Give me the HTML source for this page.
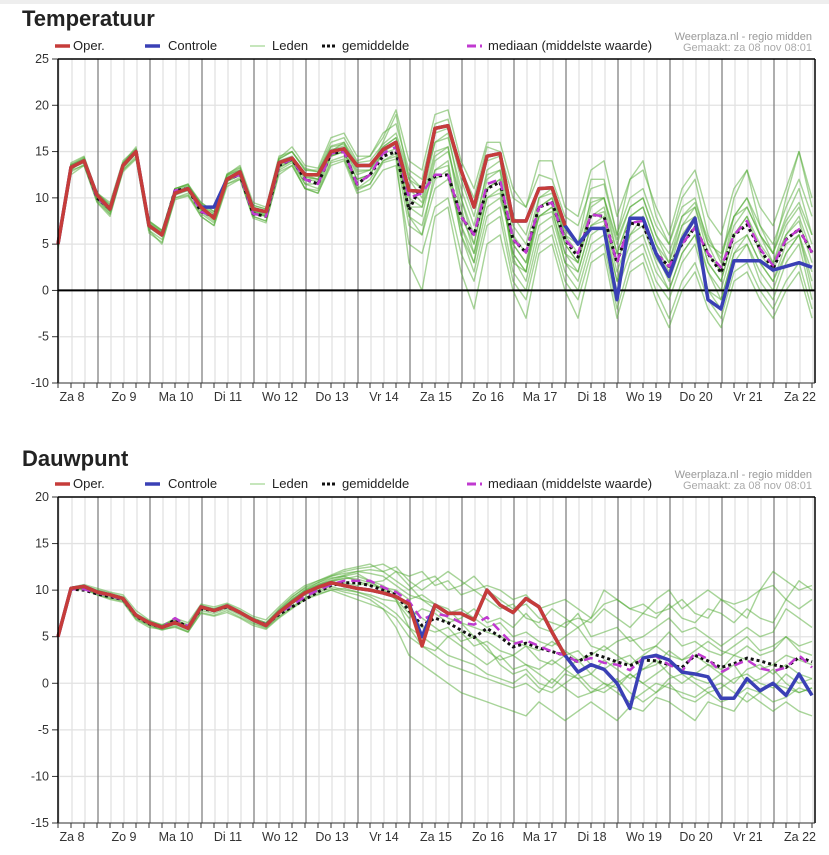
<!DOCTYPE html>
<html><head><meta charset="utf-8">
<style>
html,body{margin:0;padding:0;background:#fff;width:829px;height:855px;overflow:hidden;font-family:"Liberation Sans",sans-serif}
svg{position:absolute;left:0;top:0}
</style></head>
<body>
<svg id="c" width="829" height="855" xmlns="http://www.w3.org/2000/svg"></svg>
<script>
const days=["Za 8","Zo 9","Ma 10","Di 11","Wo 12","Do 13","Vr 14","Za 15","Zo 16","Ma 17","Di 18","Wo 19","Do 20","Vr 21","Za 22"];
const tempTicks=[25,20,15,10,5,0,-5,-10];
const dewTicks=[20,15,10,5,0,-5,-10,-15];
const tOper=[5,13.3,14,10.3,8.8,13.5,15,7,6,10.5,11,9,7.8,12,12.8,8.8,8.5,13.8,14.3,12.5,12.5,15,15.3,13.5,13.5,15.2,16,10.8,10.7,17.5,17.8,13,9,14.5,14.8,7.5,7.5,11,11.1,7];
const tCtrl=[5,13.3,14,10.3,8.8,13.5,15,7,6,10.5,11,9,9,12,12.8,8.8,8.5,13.8,14.3,12.5,12.5,15,15.3,13.5,13.5,15.2,16,10.8,10.7,17.5,17.8,13,9,14.5,14.8,7.5,7.5,11,11.1,7,5,6.7,6.7,-1,7.8,7.8,4,1.5,5.5,7.8,-1,-2,3.2,3.2,3.2,2.2,2.6,3,2.5];
const tMean=[5,13.3,14,10,8.8,13.5,15,7,6,10.8,11,8.5,8,12,12.5,8.3,8,13.5,14.2,12,11.5,14.8,15,11.5,12.5,14.5,15,8.7,11.5,12.3,12.5,8,6,11,11.7,5.5,4.1,9,9.5,5.5,3.6,8.2,8,3,7.3,7,4,2.6,5,6.8,4,1.9,6,7.1,4.5,2.3,5.5,6.6,4.1];
const tMedian=[5,13.3,14,10,8.8,13.5,15,7,6,10.8,11,8.5,8,12,12.5,8.3,8,13.5,14.2,12,11.5,14.8,15,11.5,12.5,14.8,15.5,10,10.5,12.5,12.5,8,6,11.5,12,5.5,4.1,9,9.5,5.5,4,8.2,8,3,7.3,7.5,4,2.6,5,6.8,4,2.5,6,7.5,4.5,2.7,5.5,6.6,4.1];
const tM1=[5,13.8,14.5,10.5,9.5,14,15.3,7.5,6.5,11,11.5,9.5,8.5,12.5,13.5,9.5,9,14.5,15,13,13,16,16.5,14,14.5,17,18,13,12,18,18.5,13,10,15.5,15,10,9,12.5,12,8,7,11,11.5,6,10,11,7,5,9,10,5,4,8,10,7,5,9,12,8];
const tM2=[4.5,12.5,13.5,9.5,8,13,14.5,6.5,5,10,10.5,8,7,11.5,12,8,7.5,12.5,13.5,11,10.5,13.5,14,10.5,11,13,13.5,5,4,9,10,4,1,7,8,1,-1,5,6,1,-1,4,5,-2,3,4,0,-3,1,3,-1,-3,2,3,0,-2,1,3,-2];
const tM3=[5,13,14.2,10,8.5,13.3,14.8,7,6,10.3,11,9,8,12,12.8,8.5,8,13.2,14,11.5,11,14.5,15,12,12.5,15,16,9,8,14,15,10,5,11,12,3,2,9,10,4,3,9,10,4,8,9,5,2,7,8,3,1,6,8,5,3,6,8,4];
const tM4=[5.2,13.5,14,10.2,9,13.8,15.5,7.5,6.5,11,11.5,9,8,12.5,13,9,8.5,14,14.5,12.5,12,15,16,13,13,16,19,12,10,16,17,10,6,13,14,6,4,8,9,3,2,7,8,2,6,8,4,1,5,7,2,0,5,6,3,1,4,6,2];
const tM5=[4.8,13.2,13.8,9.8,8.5,13.2,14.8,6.8,5.8,10.5,10.8,8.5,7.5,11.8,12.5,8.5,8,13.5,14,11.5,11.5,14.5,15,11,11.5,14,14.5,7,6,11,12,7,3,9,10,5,3,9,10,6,4,8,9,4,8,9,5,3,7,9,5,2,7,9,6,3,7,9,5];
const tM6=[5,13.5,14.3,10.5,9,13.6,15,7.2,6.2,10.8,11.2,9.2,8.2,12.3,13,9,8.6,14.2,15,13,12.8,15.5,15.8,13.5,13.5,15.5,16.5,12,11,17,17.5,12,8,14,14.5,8,6,11,11,5,3,10,10,5,9,10,6,3,8,9,4,2,8,10,6,4,8,11,6];
const tM7=[5,13,13.5,9.8,8.3,13,14.3,6.5,5.5,10,10.3,8.3,7.3,11.5,12.2,8,7.5,13,13.8,11,10.8,14,14.5,10.8,11.5,13.8,14.2,3,0,8,9,2,-2,5,6,0,-3,4,5,0,-3,3,4,-3,2,3,-1,-4,0,2,-2,-4,1,2,-1,-3,0,2,-3];
const tM8=[5,13.4,14.1,10.3,8.9,13.5,15,7,6,10.6,11.1,9,8,12,12.7,8.7,8.3,13.7,14.4,12.5,12.3,15.2,15.6,13.3,13.6,15.5,16.5,11,9.5,15,15.5,9,4,10,11,4,2,10,11,6,5,12,12,6,12,14,8,5,10,12,6,3,10,13,7,4,10,15,9];
const tM9=[5,13.1,13.9,10,8.6,13.3,14.8,6.9,5.9,10.3,10.8,8.7,7.7,11.8,12.4,8.3,8,13.3,14,12,11.8,14.6,15,12,12.5,14.8,15.3,8,7,12,13,6,2,8,9,2,0,6,7,2,0,5,6,0,4,5,1,-1,3,5,0,-2,3,5,1,-1,3,5,-1];
const tM10=[5,13.6,14.4,10.6,9.2,13.8,15.2,7.3,6.3,11,11.3,9.5,8.5,12.4,13.2,9.2,8.8,14.3,15.5,13.5,13.2,16.5,17,14.5,14.5,16.5,19.5,14,13,19,19.5,14,11,16,16,11,9,14,14,9,8,13,14,8,12,13,9,6,11,13,8,6,11,13,9,7,11,15,10];
const tM11=[5,12.8,13.6,9.6,8.2,12.8,14.2,6.2,5.2,9.8,10.2,8,7,11.2,12,7.8,7.3,12.8,13.5,11,10.5,13.8,14.2,11,12,14,14.8,9,9,13,13.5,7,4,10,10.5,5,3,8,8.5,4,2,7,7.5,1,6,7,3,0,4,6,2,-1,4,6,3,1,5,6,1];
const tM12=[5.1,13.6,14.2,10.4,9.3,13.7,15.2,7.4,6.4,11,11.4,9.3,8.3,12.6,13.3,9.2,8.8,14.2,15,13.2,12.8,15.6,16,13.8,14,15.8,17,12.5,11,16,16.5,11,7,12.5,13,7,5,10,10.5,6.5,5,9.5,10,5.5,9,10,6,4,8,9.5,5.5,3.5,8,9,6,4,7.5,9.5,6];
const tM13=[4.9,13.2,13.9,10.1,8.7,13.4,14.9,7.1,6.1,10.5,10.9,8.8,7.8,12,12.6,8.6,8.2,13.6,14.3,12.2,12,15,15.4,12.8,13,15.2,16,10,9,14.5,15.5,8,5,12,13,4,2,8,9,5,3,8,8.5,3,7,8,3.5,1.5,6,8,3,1,6,8,4,2,6,7.5,3];
const tM14=[5,13.3,14,10.2,8.8,13.5,15,7,6,10.5,11,8.8,7.9,12,12.6,8.6,8.1,13.6,14.2,12.3,12,15,15.3,12.5,13,15,15.8,8,6,13,14,6,3,11,12,3.5,1,7,8,3,1,6,7,1,5,6,2,0,4,6,0,-1,4,5,2,0,4,6,0];

const dOper=[5,10.2,10.4,9.8,9.5,9.1,7.3,6.5,6,6.5,5.9,8.2,7.8,8.3,7.6,6.8,6.2,7.6,8.7,9.7,10.3,10.8,10.5,10.2,10,9.7,9.3,8.5,4,8.4,7.5,7.5,6.8,10,8.4,7.6,9.1,8.2,5.5,3];
const dCtrl=[5,10.2,10.4,9.8,9.5,9.1,7.3,6.5,6,6.5,5.9,8.2,7.8,8.3,7.6,6.8,6.2,7.6,8.7,9.7,10.3,10.8,10.5,10.2,10,9.7,9.3,8.5,5,8.4,7.5,7.5,6.8,10,8.4,7.6,9.1,8.2,5.5,3,1.2,2,1.5,0,-2.7,2.7,3,2.5,1.2,1,0.7,-1.6,-1.6,0.5,-0.8,0,-1.3,1,-1.3];
const dMean=[5,10.1,10,9.6,9.3,9,7.2,6.4,6,6.8,6,8,7.8,8.2,7.6,6.8,6.3,7.4,8.2,9,9.8,10.5,10.8,10.8,10.5,10,9.5,7.8,6.2,7,6.5,5.7,4.9,5.9,5,3.9,4.3,3.8,3.4,3,2.3,3.2,2.8,2.3,1.9,2.5,2.4,2,1.7,3,2.4,1.7,2.1,2.7,2.4,2,1.7,2.8,2.3];
const dMedian=[5,10.1,10.1,9.7,9.4,9,7.3,6.5,6,7,6.1,8.2,7.8,8.3,7.6,6.8,6.3,7.5,8.4,9.3,10,10.6,11,11,11,10.3,9.8,8.8,6.8,7.5,7.2,6.5,6.3,7.1,5.6,4.2,4.6,4,3.4,3,2.3,2.7,2.2,2,1.4,2.7,2.9,2,1.3,3.3,2.6,1.2,1.9,2.5,1.6,1.3,1.7,3,1.7];
const dM1=[5,10.3,10.6,10.2,9.8,9.5,7.8,6.8,6.2,7,6.5,8.5,8.2,8.6,8,7.2,6.8,8.2,9.5,10.5,11,11.5,11.8,12,12.2,12,12.5,11,10,11,12,11,10,10.5,10,9,9.5,8,8.5,9,8,7,8.5,9,8,7.5,9,10,8,9,10,9,8.5,9,10,10.5,9,8,9];
const dM2=[5,10,10.2,9.5,9,8.7,6.8,6,5.8,6,5.5,7.5,7.2,7.6,7,6.2,5.8,7,8,9,9.5,10,9.5,9,8.5,8,6,3,2,1,0,-1,-1.5,-2,-2.5,-3,-3.5,-2,-3,-4,-3,-2,-3,-4,-2.5,-3,-1.5,-2,-3,-4,-2,-2.5,-3,-1,-2,-3,-2,-3,-3.5];
const dM3=[5,10.1,10.3,9.7,9.4,9,7.2,6.4,6,6.4,6,8,7.7,8.2,7.5,6.8,6.4,7.8,9,10,10.6,11,11.2,11.5,11,10.5,9.5,8,7,6,5,5.5,4,4.5,3.5,3,4,2.5,2,3,3.5,2,1.5,2.5,3,1.5,2,3.5,2.5,3,2,1.5,3,2.5,1.5,2,3,2.5,2];
const dM4=[5,10.2,10.5,9.9,9.6,9.2,7.4,6.6,6.2,6.8,6.1,8.3,7.9,8.4,7.7,6.9,6.4,7.9,9.2,10.3,11,11.6,12.2,12.5,12.8,12,11,10,11,11.5,10,10.5,11.5,10,9,8,8.5,7,6.5,6,7.5,5,5.5,6,4.5,5,6,7,5.5,6,5,4,5,6,5,5.5,8,7,6];
const dM5=[5,10.1,10.2,9.6,9.2,8.9,7,6.2,5.8,6.2,5.6,7.8,7.5,8,7.3,6.5,6,7.2,8.2,9.2,9.8,10.2,9.8,9.5,9,8,7,5,4,3,2,1.5,1,0.5,0,-0.5,0,-1,0.5,-0.5,-1.5,-1,0,-1,-2,-1,0,-0.5,-1,-1.5,-0.5,0,-1,-2,-1,0,-0.5,-1,-0.5];
const dM6=[5,10.3,10.5,10,9.7,9.3,7.5,6.7,6.3,6.8,6.3,8.4,8,8.5,7.8,7,6.5,8,9.3,10.2,10.8,11.3,11.5,11,10.5,10.3,10,9,9.5,8.5,7.5,8,7,6,6.5,5,5.5,4.5,4,5,6,4,3.5,4.5,5,3.5,4,5.5,4,4.5,3.5,3,4,5,3.5,4,5,3.5,3];
const dM7=[5,10.2,10.4,9.8,9.5,9,7.2,6.5,6,6.5,5.9,8.1,7.8,8.3,7.6,6.8,6.2,7.6,8.6,9.6,10.2,10.6,10.8,10.5,10.8,11,12,10.5,9,8.5,8,6.5,5,4,2,1,1.5,0,-0.5,1,0.5,-1,-0.5,0.5,-1,-2,-1,0,-1.5,-2,-1,-2,-1.5,-0.5,-1,-2,-1.5,-0.5,-1];
const dM8=[5,10.1,10.3,9.8,9.4,9.1,7.3,6.5,6.1,6.6,6,8.2,7.8,8.3,7.6,6.8,6.2,7.5,8.5,9.5,10,10.4,10,9.8,9.5,9,8.8,7,8,7.5,6.5,7,8,6.5,7,6,7.5,6,5.5,6.5,7,6.5,8,7,6,7.5,7,8.5,7,6.5,8,7.5,6.5,8,7,6.5,9,11,10];
const dM9=[5,10.2,10.4,9.9,9.6,9.2,7.4,6.6,6.1,6.6,6,8.2,7.9,8.3,7.6,6.8,6.3,7.6,8.8,9.8,10.5,11,11.5,11.8,11,10,9,6,4,3.5,5,4,3,2,3,1.5,2,1,0,1.5,2.5,1,0,-0.5,1,0,1,2,1.5,0.5,0,1,2,0,0.5,1.5,0,-1,-0.5];
const dM10=[5,10.3,10.5,10,9.6,9.2,7.4,6.6,6.2,6.7,6.2,8.3,8,8.4,7.7,7,6.5,7.8,9,10,10.8,11.5,12,12.3,12.5,12.8,12,11.5,12,10.5,11,9.5,10,9,8,8.5,7,6.5,8,7,6,7,10,9,8,8.5,7.5,8,9,7.5,7,9,8,7,10,12,11,10,10.5];
const dM11=[5,10,10.1,9.5,9.1,8.8,6.9,6.2,5.7,6.1,5.5,7.6,7.3,7.8,7.1,6.4,5.9,7.1,8.1,9.1,9.6,10,10.2,9.8,9.3,8.5,7.5,6,5,4,3,2.5,2,1,0.5,0,1,-0.5,-1,0,1,-0.5,-1,0,1,0,-1,0.5,1,0,-1,-0.5,0.5,1,0,-0.5,1,0,0.5];
const dM12=[5,10.2,10.3,9.9,9.5,9.1,7.3,6.5,6,6.6,6,8.2,7.8,8.3,7.6,6.8,6.3,7.7,8.9,9.9,10.6,11.2,11.6,12,11.8,11.5,10.5,9.5,9,8,7,6.5,6,5.5,5,4.5,4,3.5,4.5,3.5,2.5,3,4,3,2,3,4,3,2.5,3.5,4.5,3.5,3,4,3,3.5,5,4,4.5];
const dM13=[5,10.1,10.4,9.8,9.4,9,7.2,6.4,6,6.6,6,8.1,7.7,8.2,7.6,6.8,6.2,7.5,8.6,9.6,10.3,10.9,11.3,11.2,10.8,10.2,9,7.5,6,5.5,6,4.5,5,3.5,2.5,3,2,1.5,2.5,1.5,0.5,1,2.5,1.5,0.5,1.5,2.5,1,0,1,2,1,0,1.5,2,1,2,1,0.5];

const NS="http://www.w3.org/2000/svg";
const svg=document.getElementById('c');
const X0=58,X1=815,STEP=13;
function mk(tag,attrs,parent,text){const e=document.createElementNS(NS,tag);for(const k in attrs)e.setAttribute(k,attrs[k]);if(text!==undefined)e.textContent=text;(parent||svg).appendChild(e);return e;}
function xAt(i){return X0+i*STEP;}

function chart(cfg){
  const g=mk('g',{});
  
  
  const yv=v=>cfg.top+(cfg.max-v)*(cfg.bot-cfg.top)/(cfg.max-cfg.min);
  const t=mk('text',{x:22,y:cfg.titleY,'font-size':22,'font-weight':'bold',fill:'#222'},g,cfg.title);
  
  
  for(let x=X0+1;x<X1;x+=STEP){mk('line',{x1:x,x2:x,y1:cfg.top,y2:cfg.bot,stroke:'#e2e2e2','stroke-width':1.3},g);}
  cfg.ticks.forEach(v=>{mk('line',{x1:X0,x2:X1,y1:yv(v),y2:yv(v),stroke:'#e2e2e2','stroke-width':1.3},g);});
  for(let k=0;k<14;k++){const x=98+52*k;mk('line',{x1:x,x2:x,y1:cfg.top,y2:cfg.bot,stroke:'#666','stroke-width':1},g);}
  cfg.ticks.forEach(v=>{
    mk('line',{x1:52,x2:X0,y1:yv(v),y2:yv(v),stroke:'#333'},g);
    const tl=mk('text',{x:49,y:yv(v)+4,'font-size':12.5,fill:'#333','text-anchor':'end'},g,String(v));
    
    
  });
  for(let x=X0;x<=X1;x+=STEP){mk('line',{x1:x,x2:x,y1:cfg.bot,y2:cfg.bot+5,stroke:'#333'},g);}
  days.forEach((d,k)=>{
    const xl=mk('text',{x:72+52*k,y:cfg.bot+18,'font-size':12.5,fill:'#333','text-anchor':'middle'},g,d);
    
    
  });
  const path=(arr,attrs,name)=>{
    let d='';arr.forEach((v,i)=>{d+=(i?'L':'M')+xAt(i).toFixed(1)+' '+yv(v).toFixed(1);});
    const p=mk('path',Object.assign({d:d,fill:'none','stroke-linejoin':'round'},attrs),g);
    
    
  };
  cfg.members.forEach(m=>path(m,{stroke:'rgba(80,170,50,0.5)','stroke-width':1.4},'member-line'));
  if(cfg.zero){mk('line',{x1:X0,x2:X1,y1:yv(0),y2:yv(0),stroke:'#000','stroke-width':2},g);}
  path(cfg.mean,{stroke:'#111','stroke-width':3,'stroke-dasharray':'3,3'},'mean-line');
  path(cfg.median,{stroke:'#c03ad0','stroke-width':2.5,'stroke-dasharray':'9,6'},'median-line');
  path(cfg.ctrl,{stroke:'#3a40b5','stroke-width':3.5},'control-line');
  path(cfg.oper,{stroke:'#c63c3a','stroke-width':3.5},'oper-line');
  mk('line',{x1:X0,x2:X0,y1:cfg.top,y2:cfg.bot,stroke:'#000','stroke-width':1.5},g);
  mk('line',{x1:X0,x2:X1,y1:cfg.top,y2:cfg.top,stroke:'#000','stroke-width':1.5},g);
  mk('line',{x1:X1,x2:X1,y1:cfg.top,y2:cfg.bot,stroke:'#000','stroke-width':1.5},g);
  mk('line',{x1:X0,x2:X1,y1:cfg.bot,y2:cfg.bot,stroke:'#333','stroke-width':1},g);
  const ly=cfg.top-9;
  const leg=(x,stroke,w,dash,label,tx)=>{
    const lg=mk('g',{},g);
    
    
    mk('line',{x1:x,x2:x+15,y1:ly-4,y2:ly-4,stroke:stroke,'stroke-width':w,'stroke-dasharray':dash||'none'},lg);
    mk('text',{x:tx,y:ly,'font-size':13,fill:'#222'},lg,label);
  };
  leg(55,'#c63c3a',3.5,null,'Oper.',73);
  leg(145,'#3a40b5',3.5,null,'Controle',168);
  leg(250,'#9fd68f',1.2,null,'Leden',272);
  leg(322,'#111',3,'3,2','gemiddelde',342);
  leg(467,'#c03ad0',3,'9,4','mediaan (middelste waarde)',488);
  const s1=mk('text',{x:812,y:ly-10,'font-size':11,fill:'#999','text-anchor':'end'},g,'Weerplaza.nl - regio midden');
  
  
  const s2=mk('text',{x:812,y:ly+1,'font-size':11,fill:'#aaa','text-anchor':'end'},g,'Gemaakt: za 08 nov 08:01');
  
  
}
mk('rect',{x:0,y:0,width:829,height:4,fill:'#eee'});
chart({name:'temperature-chart',title:'Temperatuur',titleY:26,top:59,bot:383,max:25,min:-10,ticks:tempTicks,zero:true,
  members:[tM1,tM2,tM3,tM4,tM5,tM6,tM7,tM8,tM9,tM10,tM11,tM12,tM13,tM14],mean:tMean,median:tMedian,ctrl:tCtrl,oper:tOper});
chart({name:'dewpoint-chart',title:'Dauwpunt',titleY:466,top:497,bot:823,max:20,min:-15,ticks:dewTicks,zero:false,
  members:[dM1,dM2,dM3,dM4,dM5,dM6,dM7,dM8,dM9,dM10,dM11,dM12,dM13],mean:dMean,median:dMedian,ctrl:dCtrl,oper:dOper});
</script>
</body></html>
